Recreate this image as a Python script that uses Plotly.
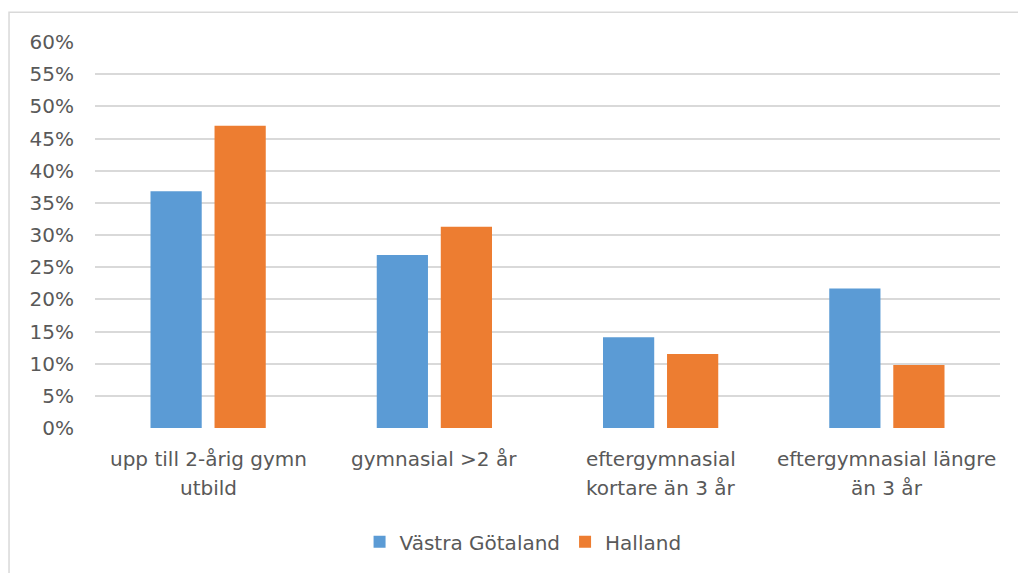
import plotly.graph_objects as go

# Share of population by highest level of education
categories = [
    "upp till 2-årig gymn utbild",
    "gymnasial >2 år",
    "eftergymnasial kortare än 3 år",
    "eftergymnasial längre än 3 år",
]
label_lines = [
    ["upp till 2-årig gymn", "utbild"],
    ["gymnasial >2 år"],
    ["eftergymnasial", "kortare än 3 år"],
    ["eftergymnasial längre", "än 3 år"],
]
vastra_gotaland = [0.368, 0.269, 0.141, 0.217]
halland = [0.470, 0.313, 0.115, 0.098]

y_ticks = [i / 100 for i in range(0, 61, 5)]
y_ticktext = [f"{i}%" for i in range(0, 61, 5)]

BLUE = "#5B9BD5"
ORANGE = "#ED7D31"
TEXT = "#595959"
GRID = "#D9D9D9"
FONT = "DejaVu Sans, Open Sans, sans-serif"
FS = 20

fig = go.Figure()
fig.add_trace(go.Bar(x=categories, y=vastra_gotaland, name="Västra Götaland",
                     marker=dict(color=BLUE, line=dict(width=0))))
fig.add_trace(go.Bar(x=categories, y=halland, name="Halland",
                     marker=dict(color=ORANGE, line=dict(width=0))))

# category labels, two lines with generous spacing
for cat, lines in zip(categories, label_lines):
    for i, line in enumerate(lines):
        fig.add_annotation(x=cat, y=0, xref="x", yref="paper", text=line,
                           showarrow=False, yanchor="middle", xanchor="center",
                           yshift=-31 - 29 * i,
                           font=dict(family=FONT, size=FS, color=TEXT))

# outer chart frame
fig.add_shape(type="rect", xref="paper", yref="paper",
              x0=-0.095, x1=1.04, y0=-0.45, y1=1.0773,
              line=dict(color="#D9D9D9", width=1.5), fillcolor="rgba(0,0,0,0)",
              layer="below")

fig.update_layout(
    width=1018, height=573,
    margin=dict(l=95, r=18, t=42, b=139),
    paper_bgcolor="white", plot_bgcolor="white",
    barmode="group", bargap=0.434, bargroupgap=0.2,
    font=dict(family=FONT, size=FS, color=TEXT),
    showlegend=True,
    legend=dict(orientation="h", x=0.473, xanchor="center", y=-0.295, yanchor="middle",
                font=dict(family=FONT, size=FS, color=TEXT), itemwidth=30,
                traceorder="normal"),
    xaxis=dict(showticklabels=False, showline=False, ticks="", showgrid=False),
    yaxis=dict(range=[0, 0.6], tickvals=y_ticks, ticktext=y_ticktext,
               showgrid=True, gridcolor=GRID, gridwidth=2, zeroline=False,
               showline=False, ticks="", ticklabelstandoff=20,
               tickfont=dict(family=FONT, size=FS, color=TEXT)),
)

fig.write_html("out.html")
